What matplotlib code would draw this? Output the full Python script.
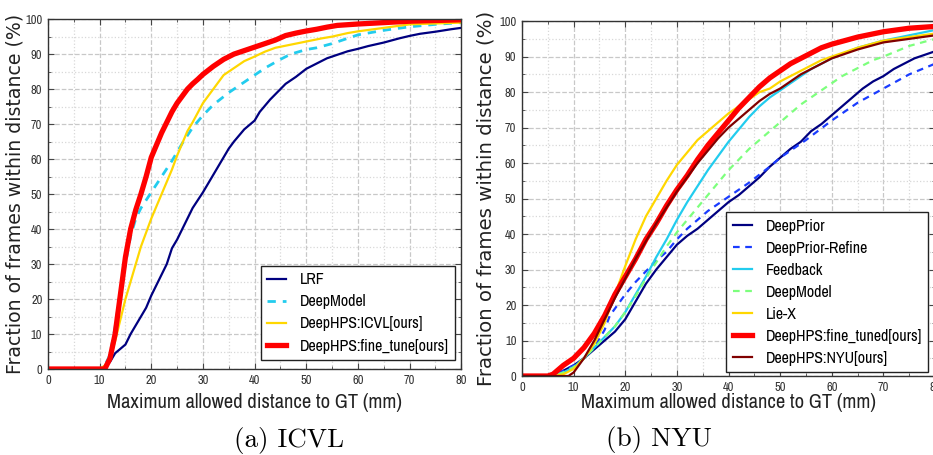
import numpy as np
import matplotlib
matplotlib.use("Agg")
import matplotlib.pyplot as plt
from matplotlib.ticker import MultipleLocator

# narrow sans like the paper figure, falling back to DejaVu Sans
plt.rcParams['font.family'] = ['Liberation Sans Narrow', 'Arial Narrow', 'Archivo Narrow',
                               'DejaVu Sans']

# ---- (a) ICVL ----
lrf_x = [0, 10, 11, 12, 13, 15, 16, 18, 19, 20, 22, 23, 24, 25, 26, 28, 30, 32, 33, 35, 36, 38, 40,
         41, 43, 44, 46, 48, 50, 52, 54, 56, 58, 60, 62, 65, 68, 70, 72, 75, 78, 80]
lrf_y = [0, 0, 0.5, 2, 4.5, 7, 10, 15, 17.5, 21, 27, 30, 34.5, 37, 40, 46, 50.5, 55.5, 58, 63, 65,
         68.5, 71, 73.5, 77, 78.5, 81.5, 83.5, 85.8, 87.3, 88.8, 89.8, 90.8, 91.5, 92.3, 93.3, 94.5,
         95.2, 95.8, 96.4, 97.1, 97.5]

dm_icvl_x = [0, 10, 11, 12, 13, 14, 15, 16, 17, 18, 20, 22, 24, 25, 26, 28, 30, 32, 35, 38, 40, 42,
             45, 47, 50, 52, 55, 58, 60, 65, 70, 75, 80]
dm_icvl_y = [0, 0, 1, 4, 12, 22, 30, 38, 43, 46, 50.5, 55, 59.5, 62, 64.5, 69, 72.5, 75.5, 79, 82,
             84, 86, 88.5, 90, 91.3, 91.8, 93, 94.5, 95.5, 96.8, 97.8, 98.5, 99]

icvl_x = [0, 10, 11, 12, 13, 14, 15, 16, 17, 18, 20, 22, 24, 25, 26, 27, 28, 30, 32, 34, 36, 38, 40,
          42, 44, 46, 48, 50, 53, 55, 58, 60, 65, 70, 80]
icvl_y = [0, 0, 1, 3, 8, 14, 20, 25, 30, 35, 43, 50, 57, 61, 64.5, 68, 70.5, 76, 80, 84, 86, 88,
          89.3, 90.7, 91.8, 92.4, 93, 93.6, 94.5, 95, 96, 96.5, 97.5, 98.5, 99]

ft_icvl_x = [0, 11, 12, 13, 14, 15, 16, 17, 18, 19, 20, 21, 22, 23, 24, 25, 26, 27, 28, 29, 30, 32,
             34, 36, 38, 40, 42, 44, 46, 48, 50, 52, 54, 56, 60, 65, 70, 80]
ft_icvl_y = [0, 0, 3, 10, 21, 32, 40, 45.5, 50, 55, 60.5, 64, 67.5, 70.5, 73.5, 76, 78, 80, 81.5,
             82.8, 84.2, 86.5, 88.5, 90, 91, 92, 93, 94, 95.3, 96, 96.6, 97.1, 97.7, 98.2, 98.6,
             99, 99.4, 99.8]

# ---- (b) NYU ----
dp_x = [0, 6, 8, 10, 12, 14, 16, 18, 20, 22, 24, 26, 28, 30, 32, 34, 36, 38, 40, 42, 44, 46, 48, 50,
        52, 54, 56, 58, 60, 62, 64, 66, 68, 70, 72, 74, 76, 78, 80]
dp_y = [0, 0, 1.5, 3, 5, 7.5, 10, 12.5, 16, 21, 26, 30, 33.5, 37, 39.5, 41.5, 44, 46.5, 49, 51,
        53.5, 56, 59, 61.5, 64, 66, 69, 71, 73.5, 76, 78.5, 81, 83, 84.5, 86.5, 88, 89.5, 90.5, 91.5]

dpr_x = [0, 6, 8, 10, 12, 14, 16, 17, 18, 20, 22, 24, 26, 28, 30, 32, 34, 36, 38, 40, 44, 48, 50,
         55, 60, 65, 70, 75, 80]
dpr_y = [0, 0, 1.5, 3, 5, 8, 13, 17, 19, 23, 26.5, 29.5, 32.5, 35, 38.5, 41.5, 44, 46.5, 48.5, 50.5,
         54.5, 59, 61.5, 66.5, 72, 77, 81, 85, 88]

fb_x = [0, 6, 8, 10, 12, 14, 16, 18, 20, 22, 24, 26, 28, 30, 32, 34, 36, 38, 40, 42, 44, 46, 48, 50,
        52, 54, 56, 58, 60, 65, 70, 75, 80]
fb_y = [0, 0, 1, 2.5, 5, 8, 11, 14, 18, 23, 28, 33.5, 38.5, 44, 49, 53.5, 58, 62, 66, 69.5, 73, 76,
        78.5, 80.5, 82.5, 84.5, 86.5, 88, 89.5, 92.5, 94.5, 96, 97.5]

dm_nyu_x = [0, 6, 8, 10, 12, 14, 16, 18, 20, 22, 24, 26, 28, 30, 32, 34, 36, 38, 40, 42, 44, 46, 48,
            50, 52, 54, 56, 58, 60, 62, 64, 66, 68, 70, 75, 80]
dm_nyu_y = [0, 0, 1, 2.5, 5, 8, 11, 14, 18, 22.5, 27.5, 32, 36.5, 40.5, 44, 47.5, 51, 54.5, 58,
            61, 64, 66.5, 69, 71.5, 74, 76.5, 78.5, 80.5, 82.5, 84.5, 86, 87.5, 89, 90, 93, 95]

liex_x = [0, 6, 8, 10, 12, 14, 16, 18, 20, 22, 24, 26, 28, 30, 32, 34, 36, 38, 40, 42, 44, 46, 48,
          50, 52, 54, 56, 58, 60, 65, 70, 75, 80]
liex_y = [0, 0, 0.5, 2, 5, 9, 15, 23, 31, 38.5, 45, 50, 55, 59.5, 63, 66.5, 69, 71.5, 74, 76, 78,
          80, 81, 83, 84.5, 86, 87.5, 89, 90, 92.5, 94.5, 95.5, 96.5]

ft_nyu_x = [0, 5, 6, 8, 10, 12, 14, 16, 18, 20, 22, 24, 26, 28, 30, 32, 34, 36, 38, 40, 42, 44, 46,
            48, 50, 52, 54, 56, 58, 60, 65, 70, 75, 80]
ft_nyu_y = [0, 0, 0.5, 3, 5, 8, 12, 17, 23, 28, 33, 38.5, 43, 48, 52.5, 56.5, 61, 65, 68.5, 72,
            75.5, 78.5, 81.5, 84, 86, 88, 89.5, 91, 92.5, 93.5, 95.5, 97, 98, 98.5]

nyu_x = [0, 9, 10, 12, 14, 16, 18, 20, 22, 24, 26, 28, 30, 32, 34, 36, 38, 40, 42, 44, 46, 48, 50,
         52, 54, 56, 58, 60, 65, 70, 75, 80]
nyu_y = [0, 0, 1, 5, 10, 16, 22, 27.5, 33, 38, 43, 47.5, 52, 56, 60, 63.5, 67, 70, 72.5, 75, 77.5,
         79.5, 81, 83, 85, 86.5, 88, 89.5, 92, 94, 95, 96]


fig = plt.figure(figsize=(9.33, 4.55), dpi=100)
ax1 = fig.add_axes([0.0514, 0.189, 0.443, 0.769])
ax2 = fig.add_axes([0.5595, 0.1736, 0.4427, 0.780])

ax1.plot(lrf_x, lrf_y, color='#000080', lw=1.6, label='LRF')
ax1.plot(dm_icvl_x, dm_icvl_y, color='#22ccee', lw=2, ls=(0, (3, 2.5)), label='DeepModel')
ax1.plot(icvl_x, icvl_y, color='#ffd700', lw=1.6, label='DeepHPS:ICVL[ours]')
ax1.plot(ft_icvl_x, ft_icvl_y, color='#ff0000', lw=3.8, label='DeepHPS:fine_tune[ours]')

ax2.plot(dp_x, dp_y, color='#000080', lw=1.6, label='DeepPrior')
ax2.plot(dpr_x, dpr_y, color='#1a3cff', lw=1.6, ls=(0, (3, 2.5)), label='DeepPrior-Refine')
ax2.plot(fb_x, fb_y, color='#22ccee', lw=1.6, label='Feedback')
ax2.plot(dm_nyu_x, dm_nyu_y, color='#7dff7d', lw=1.6, ls=(0, (3, 2.5)), label='DeepModel')
ax2.plot(liex_x, liex_y, color='#ffd700', lw=1.6, label='Lie-X')
ax2.plot(ft_nyu_x, ft_nyu_y, color='#ff0000', lw=3.8, label='DeepHPS:fine_tuned[ours]')
ax2.plot(nyu_x, nyu_y, color='#800000', lw=1.6, label='DeepHPS:NYU[ours]')

for ax in (ax1, ax2):
    ax.set_xlim(0, 80)
    ax.set_ylim(0, 100)
    ax.xaxis.set_major_locator(MultipleLocator(10))
    ax.yaxis.set_major_locator(MultipleLocator(10))
    ax.xaxis.set_minor_locator(MultipleLocator(5))
    ax.yaxis.set_minor_locator(MultipleLocator(5))
    ax.grid(which='major', color='#c8c8c8', ls='--', lw=0.9)
    ax.grid(which='minor', color='#d8d8d8', ls=':', lw=0.9)
    ax.set_axisbelow(True)
    ax.tick_params(which='both', direction='in', top=True, right=True,
                   labelsize=9, labelcolor='#333333', color='#444444')
    ax.tick_params(which='major', length=4, pad=4)
    ax.tick_params(which='minor', length=2)
    for s in ax.spines.values():
        s.set_color('#333333')
        s.set_linewidth(1.0)
    ax.set_xlabel('Maximum allowed distance to GT (mm)', fontsize=14.8, color='#222222')

ax1.set_ylabel('Fraction of frames within distance (%)', fontsize=13.6, color='#222222',
               family='DejaVu Sans')
ax2.set_ylabel('Fraction of frames within distance (%)', fontsize=14.2, color='#222222',
               family='DejaVu Sans')
ax1.yaxis.set_label_coords(-0.057, 0.5)
ax2.yaxis.set_label_coords(-0.064, 0.5)
ax1.xaxis.set_label_coords(0.5, -0.069)
ax2.xaxis.set_label_coords(0.5, -0.048)

leg_kw = dict(fontsize=11.5, labelspacing=0.44, handlelength=1.2, handletextpad=0.85,
              fancybox=False, edgecolor='#222222', framealpha=1, borderpad=0.4,
              borderaxespad=0, loc='lower right')
l1 = ax1.legend(bbox_to_anchor=(0.985, 0.026), **leg_kw)
l2 = ax2.legend(bbox_to_anchor=(0.983, 0.011), **leg_kw)
for leg in (l1, l2):
    leg.get_frame().set_linewidth(1.0)

fig.text(0.31, 0.031, '(a) ICVL', family='cmr10', fontsize=19.5, ha='center', va='center')
fig.text(0.706, 0.033, '(b) NYU', family='cmr10', fontsize=19.5, ha='center', va='center')

fig.savefig('out.png', dpi=100)
